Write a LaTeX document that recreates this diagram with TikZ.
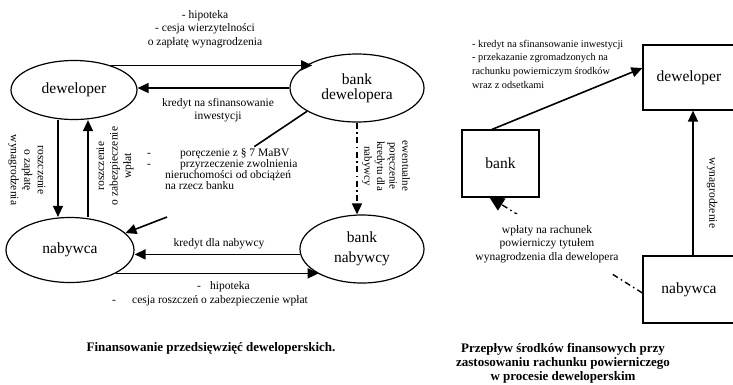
\documentclass[tikz,border=0pt]{standalone}
\usepackage{fontspec}
\setmainfont{Liberation Serif}
\usetikzlibrary{shapes.geometric,arrows.meta,backgrounds}
\begin{document}
\begin{tikzpicture}[x=1pt,y=-1pt,
  ell/.style={ellipse,draw,line width=1.2pt,inner sep=0pt,align=center,font=\fontsize{15.5}{19.5}\selectfont},
  box/.style={rectangle,draw,line width=1.2pt,fill=white,inner sep=0pt,align=center,font=\fontsize{15.5}{19.5}\selectfont},
  lbl/.style={inner sep=0pt,align=center,font=\fontsize{11.5}{13.5}\selectfont},
  arr/.style={line width=1.6pt,-{Triangle[length=11pt,width=10pt]}},
  thinarr/.style={line width=1.1pt,-{Triangle[length=11pt,width=10pt]}},
  dd/.style={dash pattern=on 6pt off 3.5pt on 1.5pt off 3.5pt},
  captxt/.style={inner sep=0pt,align=center,font=\fontsize{13}{14}\selectfont\bfseries}]
\clip (0,0) rectangle (733,384);
% ---------- left diagram ----------
\node[ell,minimum width=126pt,minimum height=59pt] (dew) at (74,90) {\raisebox{4pt}{deweloper}};
\node[ell,minimum width=134pt,minimum height=68pt] (bd) at (357,88) {\raisebox{2pt}{\shortstack{bank\\[1pt]dewelopera}}};
\node[ell,minimum width=128pt,minimum height=65pt] (nab) at (70,250) {\raisebox{2pt}{nabywca}};
\node[ell,minimum width=124pt,minimum height=68pt] (bn) at (362,249) {bank\\nabywcy};

\node[lbl] (t1) at (205,29) {- hipoteka\\- cesja wierzytelności\\o zapłatę wynagrodzenia};
\node[lbl] (t2) at (218,110) {kredyt na sfinansowanie\\inwestycji};
\node[lbl,rotate=-90] (t3) at (27,170) {roszczenie\\o zapłatę\\wynagrodzenia};
\node[lbl,rotate=90] (t4) at (115,166) {roszczenie\\o zabezpieczenie\\wpłat};
\node[lbl,align=left,anchor=west,font=\fontsize{11.5}{10.8}\selectfont] (por) at (147,169)
  {\makebox[33pt][l]{-}poręczenie z § 7 MaBV\\
   \makebox[33pt][l]{-}przyrzeczenie zwolnienia\\
   \hspace*{18pt}nieruchomości od obciążeń\\
   \hspace*{18pt}na rzecz banku};
\node[lbl,rotate=-90,font=\fontsize{11}{12.7}\selectfont] (t5) at (386,166) {ewentualne\\poręczenie\\kredytu dla\\nabywcy};
\node[lbl] (t6) at (219,244) {kredyt dla nabywcy};
\node[lbl,align=left,anchor=west] (t7) at (112,293.5)
  {\hspace*{85pt}\makebox[13pt][l]{-}hipoteka\\
   \makebox[20pt][l]{-}cesja roszczeń o zabezpieczenie wpłat};
\node[captxt] (cap1) at (211,348) {Finansowanie przedsięwzięć deweloperskich.};

\coordinate (pstart) at (167,217);

\draw[arr] (dew.34) -- (dew.34 -| bd.150);
\draw[arr] (bd.west) -- (bd.west -| dew.east);
\draw[thinarr] ([xshift=-16pt]dew.south) -- ([xshift=-16pt]dew.south |- nab.north);
\draw[arr] ([xshift=14pt]dew.south |- nab.north) -- ([xshift=14pt]dew.south);
\draw[line width=1.6pt] (bd.205) -- ([xshift=32pt,yshift=2pt]por.north);
\draw[arr] (pstart) -- (nab.17);
\draw[arr,dd] (bd.south) -- (bd.south |- bn.north);
\draw[arr] (bn.185) -- (bn.185 -| nab.east);
\draw[arr] (nab.-27) -- (nab.-27 -| bn.210);

% ---------- right diagram ----------
\node[box,minimum width=92pt,minimum height=65pt] (rdew) at (689,77.5) {deweloper};
\node[box,minimum width=92pt,minimum height=67pt] (rnab) at (689,289.5) {nabywca};
\node[box,minimum width=77pt,minimum height=67pt] (rbank) at (500.5,163.5) {bank};

\node[lbl,align=left,anchor=west,font=\fontsize{10.3}{13.7}\selectfont] (t8) at (472,64)
  {- kredyt na sfinansowanie inwestycji\\- przekazanie zgromadzonych na\\rachunku powierniczym środków\\wraz z odsetkami};
\node[lbl,fill=white,minimum width=160pt,minimum height=60pt] (wpl) at (547,244)
  {wpłaty na rachunek\\powierniczy tytułem\\wynagrodzenia dla dewelopera};
\node[lbl,rotate=-90] (t9) at (712,193) {wynagrodzenie};
\node[captxt] (cap2) at (563,363) {Przepływ środków finansowych przy\\zastosowaniu rachunku powierniczego\\w procesie deweloperskim};

\draw[arr] ([xshift=-8.5pt]rbank.north) -- ([yshift=9.5pt]rdew.west);
\draw[arr] ([xshift=4pt]rnab.north) -- ([xshift=4pt]rdew.south);
\begin{pgfonlayer}{background}
\draw[dd,line width=1.4pt,-{Triangle[length=15pt,width=14pt]}] ([yshift=-3.5pt]rnab.west) -- ([xshift=-11.5pt,yshift=1pt]rbank.south);
\end{pgfonlayer}
\end{tikzpicture}
\end{document}
